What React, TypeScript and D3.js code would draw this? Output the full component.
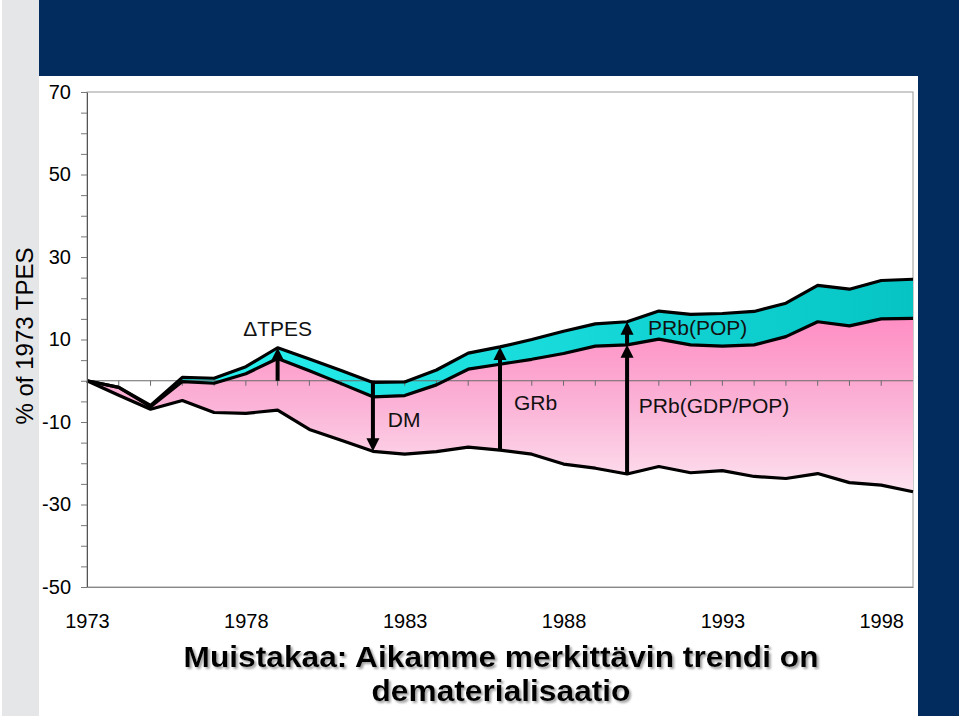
import React, { useEffect, useRef } from 'react';
import * as d3 from 'd3';

// years on the x axis
const years = [
  1973, 1974, 1975, 1976, 1977, 1978, 1979, 1980, 1981, 1982, 1983, 1984, 1985, 1986,
  1987, 1988, 1989, 1990, 1991, 1992, 1993, 1994, 1995, 1996, 1997, 1998, 1999,
];

// TPES (top of the cyan band)
const tpes = [
  0, -1.6, -6.0, 0.8, 0.6, 3.4, 8.0, 5.3, 2.5, -0.4, -0.3, 2.6, 6.7, 8.2,
  10.0, 12.0, 13.8, 14.3, 16.9, 16.1, 16.3, 16.8, 18.8, 23.1, 22.2, 24.3, 24.6,
];

// boundary between PRb(POP) and PRb(GDP/POP)
const popLine = [
  0, -1.6, -6.3, -0.2, -0.6, 1.7, 5.4, 2.4, -0.7, -3.9, -3.6, -1.0, 2.8, 4.0,
  5.2, 6.6, 8.4, 8.7, 10.1, 8.7, 8.4, 8.7, 10.7, 14.3, 13.3, 15.0, 15.1,
];

// bottom of the pink band
const dmLine = [
  0, -3.5, -6.9, -4.8, -7.7, -7.9, -7.1, -11.8, -14.4, -17.1, -17.8, -17.2, -16.1, -16.8,
  -17.8, -20.2, -21.2, -22.6, -20.8, -22.3, -21.8, -23.2, -23.7, -22.5, -24.7, -25.3, -26.9,
];

const yLabels = [70, 50, 30, 10, -10, -30, -50];
const xLabels = [1973, 1978, 1983, 1988, 1993, 1998];

// arrows: year, from, to
const arrows = [
  { year: 1979, from: 0, to: 8.0 },
  { year: 1982, from: 0, to: -17.1 },
  { year: 1986, from: -16.8, to: 8.2 },
  { year: 1990, from: -22.6, to: 8.7 },
  { year: 1990, from: 8.7, to: 14.3 },
];

const notes = [
  { text: '\u0394TPES', year: 1979, value: 10.8, anchor: 'middle' },
  { text: 'DM', year: 1982.47, value: -11.2, anchor: 'start' },
  { text: 'GRb', year: 1986.44, value: -7.1, anchor: 'start' },
  { text: 'PRb(POP)', year: 1990.66, value: 11.1, anchor: 'start' },
  { text: 'PRb(GDP/POP)', year: 1990.37, value: -7.8, anchor: 'start' },
];

const titleLines = ['Muistakaa: Aikamme merkittävin trendi on', 'dematerialisaatio'];
const titleWidths = [635, 259];

const App = () => {
  const ref = useRef<SVGSVGElement>(null);

  useEffect(() => {
    const W = 959;
    const H = 718;
    const svg = d3.select(ref.current).attr('width', W).attr('height', H);
    svg.selectAll('*').remove();

    const font = 'Liberation Sans, Arial, sans-serif';

    // slide background
    svg.append('rect').attr('width', W).attr('height', H).attr('fill', '#fff');
    svg.append('rect').attr('x', 2).attr('width', 37).attr('height', 716).attr('fill', '#e5e6e8');
    svg.append('rect').attr('x', 39).attr('width', W - 39).attr('height', 76).attr('fill', '#022b5e');
    svg.append('rect').attr('x', 918).attr('width', W - 918).attr('height', 716).attr('fill', '#022b5e');

    const x = d3.scaleLinear().domain([1973, 1999]).range([87, 913]);
    const y = d3.scaleLinear().domain([-50, 70]).range([587, 92]);

    const defs = svg.append('defs');
    const pink = defs.append('linearGradient').attr('id', 'pink')
      .attr('gradientUnits', 'userSpaceOnUse')
      .attr('x1', 0).attr('x2', 0).attr('y1', y(16)).attr('y2', y(-27));
    pink.append('stop').attr('offset', 0).attr('stop-color', '#ff8cc3');
    pink.append('stop').attr('offset', 0.5).attr('stop-color', '#fbb2d6');
    pink.append('stop').attr('offset', 1).attr('stop-color', '#fde3f0');

    const cyan = defs.append('linearGradient').attr('id', 'cyan')
      .attr('gradientUnits', 'userSpaceOnUse')
      .attr('x1', x(1973)).attr('x2', x(1999)).attr('y1', 0).attr('y2', 0);
    cyan.append('stop').attr('offset', 0).attr('stop-color', '#2ef6f6');
    cyan.append('stop').attr('offset', 1).attr('stop-color', '#06c4c4');

    const shadow = defs.append('filter').attr('id', 'shadow')
      .attr('x', '-5%').attr('y', '-20%').attr('width', '110%').attr('height', '140%');
    shadow.append('feDropShadow').attr('dx', 2).attr('dy', 2).attr('stdDeviation', 1)
      .attr('flood-color', '#8a8a8a').attr('flood-opacity', 0.8);

    // plot frame
    svg.append('rect')
      .attr('x', 87).attr('y', 92).attr('width', 913 - 87).attr('height', 587 - 92)
      .attr('fill', 'none').attr('stroke', '#9a9a9a');

    const idx = years.map((_, i) => i);

    const cyanArea = d3.area<number>()
      .x(i => x(years[i]))
      .y0(i => y(popLine[i]))
      .y1(i => y(tpes[i]));
    const pinkArea = d3.area<number>()
      .x(i => x(years[i]))
      .y0(i => y(dmLine[i]))
      .y1(i => y(popLine[i]));

    svg.append('path').datum(idx).attr('d', pinkArea).attr('fill', 'url(#pink)');
    svg.append('path').datum(idx).attr('d', cyanArea).attr('fill', 'url(#cyan)');

    // zero line with yearly ticks
    const zero = svg.append('g').attr('transform', `translate(0,${y(0)})`);
    zero.append('line').attr('x1', x(1973)).attr('x2', x(1999))
      .attr('stroke', '#6a6a6a').attr('stroke-width', 1.2);
    zero.selectAll('line.tick').data(years.slice(1, -1)).enter().append('line')
      .attr('class', 'tick')
      .attr('x1', d => x(d)).attr('x2', d => x(d))
      .attr('y1', 0).attr('y2', 5)
      .attr('stroke', '#6a6a6a');

    const series = [tpes, popLine, dmLine];
    series.forEach(vals => {
      const line = d3.line<number>().x(i => x(years[i])).y(i => y(vals[i]));
      svg.append('path').datum(idx).attr('d', line)
        .attr('fill', 'none').attr('stroke', '#000').attr('stroke-width', 3.2)
        .attr('stroke-linejoin', 'round');
    });

    // arrows
    const head = 13;
    arrows.forEach(a => {
      const xa = x(a.year);
      const y0 = y(a.from);
      const y1 = y(a.to);
      const dir = y1 < y0 ? 1 : -1;
      svg.append('line')
        .attr('x1', xa).attr('x2', xa)
        .attr('y1', y0).attr('y2', y1 + dir * head * 0.8)
        .attr('stroke', '#000').attr('stroke-width', 4);
      svg.append('path')
        .attr('d', `M${xa},${y1} L${xa - 6.5},${y1 + dir * head} L${xa + 6.5},${y1 + dir * head} Z`)
        .attr('fill', '#000');
    });

    notes.forEach(n => {
      svg.append('text')
        .attr('x', x(n.year)).attr('y', y(n.value))
        .attr('text-anchor', n.anchor)
        .attr('font-family', font).attr('font-size', 21)
        .attr('fill', '#111')
        .text(n.text);
    });

    // y axis
    const yAxis = svg.append('g').attr('transform', 'translate(87,0)')
      .call(
        d3.axisLeft(y)
          .tickValues(d3.range(-50, 71, 5))
          .tickSize(6)
          .tickSizeOuter(0)
          .tickPadding(10)
          .tickFormat(d => (yLabels.includes(+d) ? String(d) : ''))
      );
    yAxis.select('.domain').attr('stroke', '#555');
    yAxis.selectAll('.tick line').attr('stroke', '#777');
    yAxis.selectAll('text').attr('font-family', font).attr('font-size', 20).attr('fill', '#000');

    // x axis labels
    const xAxis = svg.append('g').attr('transform', `translate(0,${y(-50)})`)
      .call(
        d3.axisBottom(x)
          .tickValues(xLabels)
          .tickSize(0)
          .tickPadding(27)
          .tickFormat(d => String(d))
      );
    xAxis.select('.domain').attr('stroke', '#888');
    xAxis.selectAll('text').attr('font-family', font).attr('font-size', 20).attr('fill', '#000');

    // y axis title
    svg.append('text')
      .attr('transform', 'translate(33,336) rotate(-90)')
      .attr('text-anchor', 'middle')
      .attr('font-family', font).attr('font-size', 24)
      .attr('fill', '#000')
      .text('% of 1973 TPES');

    // slide title
    titleLines.forEach((t, i) => {
      svg.append('text')
        .attr('x', 501).attr('y', 667 + i * 34)
        .attr('text-anchor', 'middle')
        .attr('font-family', font).attr('font-size', 30).attr('font-weight', 'bold')
        .attr('textLength', titleWidths[i]).attr('lengthAdjust', 'spacingAndGlyphs')
        .attr('fill', '#000')
        .attr('filter', 'url(#shadow)')
        .text(t);
    });
  }, []);

  return (
    <div style={{ position: 'absolute', left: 0, top: 0 }}>
      <svg ref={ref} style={{ display: 'block' }}></svg>
    </div>
  );
};

export default App;
